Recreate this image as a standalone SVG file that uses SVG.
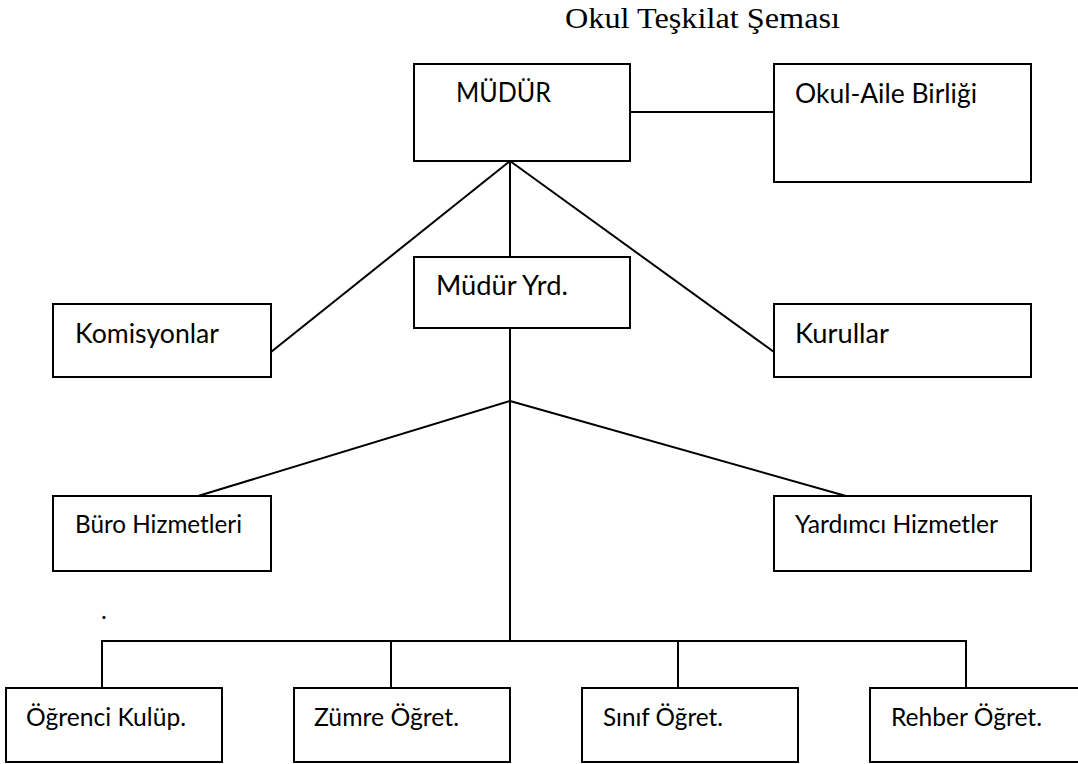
<svg xmlns="http://www.w3.org/2000/svg" width="1078" height="764" viewBox="0 0 1078 764">
<style>
.box{fill:#fff;stroke:#000;stroke-width:2}
.ln{stroke:#000;stroke-width:2;fill:none}
.t{font-family:Lato,"Open Sans",sans-serif;font-size:27px;fill:#000}
.s{font-family:Lato,"Open Sans",sans-serif;font-size:24.5px;fill:#000}
.title{font-family:"Liberation Serif","Times New Roman",serif;font-size:30px;fill:#000}
</style>
<rect width="1078" height="764" fill="#fff"/>
<text class="title" x="565" y="28" textLength="275" lengthAdjust="spacingAndGlyphs">Okul Teşkilat Şeması</text>
<g id="connectors">
<line class="ln" x1="630" y1="112" x2="774" y2="112"/>
<line class="ln" x1="510" y1="161" x2="271" y2="352"/>
<line class="ln" x1="510" y1="161" x2="510" y2="257"/>
<line class="ln" x1="510" y1="161" x2="774" y2="352"/>
<line class="ln" x1="510" y1="328" x2="510" y2="641"/>
<line class="ln" x1="510" y1="401" x2="198" y2="496"/>
<line class="ln" x1="510" y1="401" x2="846" y2="496"/>
<polyline class="ln" points="102,688 102,641 966,641 966,688"/>
<line class="ln" x1="391" y1="641" x2="391" y2="688"/>
<line class="ln" x1="678" y1="641" x2="678" y2="688"/>
</g>
<g id="mudur"><rect class="box" x="414" y="64" width="216" height="97"/><text class="t" x="456" y="102" textLength="95" lengthAdjust="spacingAndGlyphs">MÜDÜR</text></g>
<g id="okul-aile"><rect class="box" x="774" y="64" width="257" height="118"/><text class="t" x="795" y="103" textLength="182" lengthAdjust="spacingAndGlyphs">Okul-Aile Birliği</text></g>
<g id="mudur-yrd"><rect class="box" x="414" y="257" width="216" height="71"/><text class="t" x="436" y="295" textLength="132" lengthAdjust="spacingAndGlyphs">Müdür Yrd.</text></g>
<g id="komisyonlar"><rect class="box" x="53" y="304" width="218" height="73"/><text class="t" x="75" y="343" textLength="144" lengthAdjust="spacingAndGlyphs">Komisyonlar</text></g>
<g id="kurullar"><rect class="box" x="774" y="304" width="257" height="73"/><text class="t" x="795" y="343" textLength="94" lengthAdjust="spacingAndGlyphs">Kurullar</text></g>
<g id="buro"><rect class="box" x="53" y="496" width="218" height="75"/><text class="s" x="75" y="533" textLength="167" lengthAdjust="spacingAndGlyphs">Büro Hizmetleri</text></g>
<g id="yardimci"><rect class="box" x="774" y="496" width="257" height="75"/><text class="s" x="795" y="533" textLength="203" lengthAdjust="spacingAndGlyphs">Yardımcı Hizmetler</text></g>
<text class="s" x="101" y="619">.</text>
<g id="ogrenci"><rect class="box" x="6" y="688" width="216" height="74"/><text class="s" x="26" y="726" textLength="160" lengthAdjust="spacingAndGlyphs">Öğrenci Kulüp.</text></g>
<g id="zumre"><rect class="box" x="294" y="688" width="216" height="74"/><text class="s" x="314" y="726" textLength="145" lengthAdjust="spacingAndGlyphs">Zümre Öğret.</text></g>
<g id="sinif"><rect class="box" x="582" y="688" width="216" height="74"/><text class="s" x="603" y="726" textLength="120" lengthAdjust="spacingAndGlyphs">Sınıf Öğret.</text></g>
<g id="rehber"><rect class="box" x="870" y="688" width="216" height="74"/><text class="s" x="891" y="726" textLength="151" lengthAdjust="spacingAndGlyphs">Rehber Öğret.</text></g>
</svg>
